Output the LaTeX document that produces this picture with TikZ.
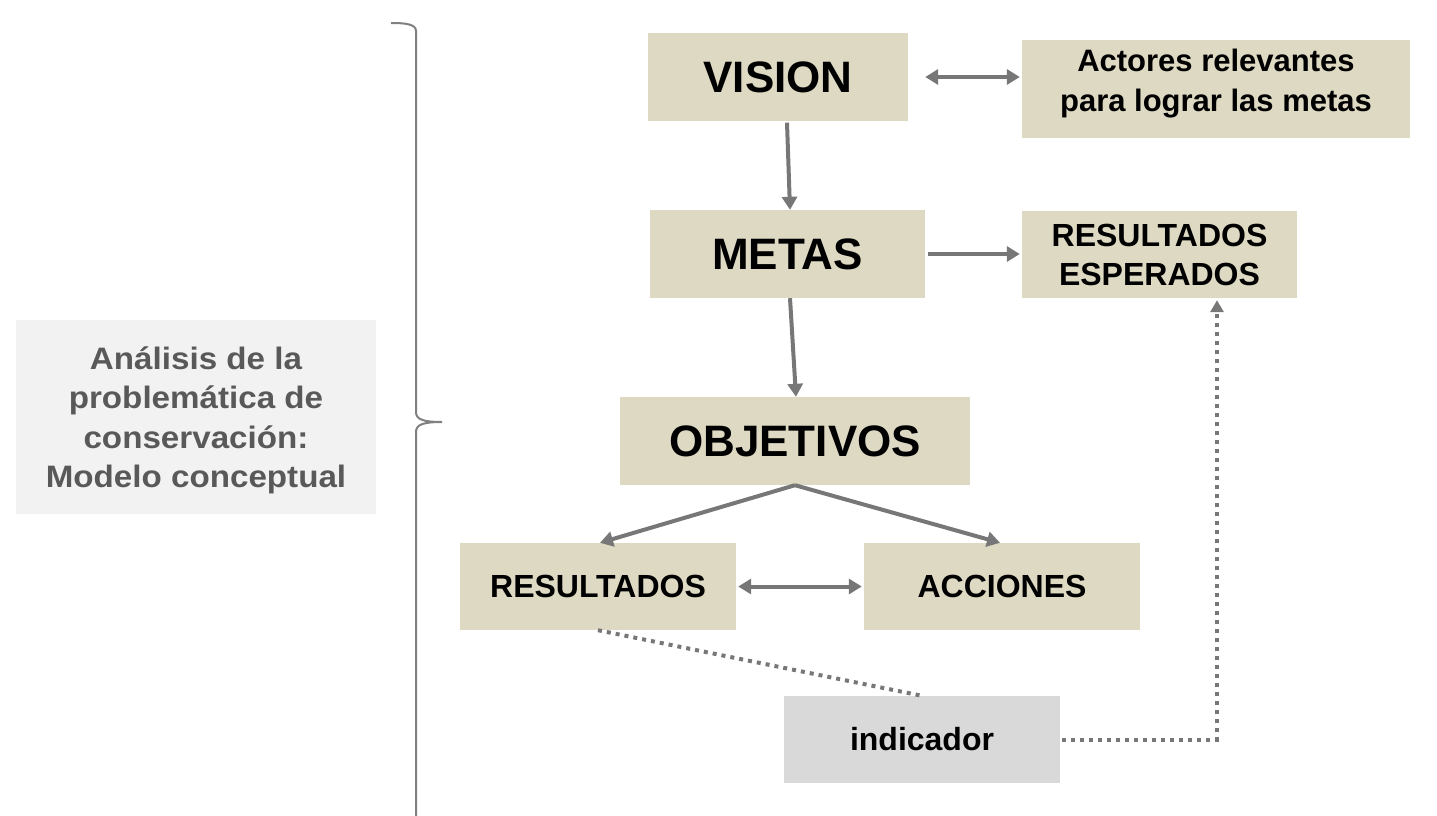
\documentclass[tikz,border=0pt]{standalone}
\usepackage{fontspec}
\setmainfont{Liberation Sans}
\newfontfamily\widefont[FakeStretch=1.07]{Liberation Sans}
\usetikzlibrary{arrows.meta}
\definecolor{tan}{HTML}{DDD9C3}
\definecolor{indgray}{HTML}{D9D9D9}
\definecolor{leftgray}{HTML}{F2F2F2}
\definecolor{lefttext}{HTML}{595959}
\definecolor{arrgray}{HTML}{777777}
\definecolor{bracegray}{HTML}{808080}
\tikzset{
  box/.style={fill=tan, inner sep=0pt, align=center, text=black},
  bigtext/.style={font=\fontsize{44}{50}\selectfont\bfseries},
  medtext/.style={font=\fontsize{32}{39}\selectfont\bfseries},
  acttext/.style={font=\fontsize{31}{40}\selectfont\bfseries},
  arr/.style={draw=arrgray, line width=4pt, -{Triangle[length=13pt,width=15pt]}},
  dbl/.style={draw=arrgray, line width=4pt, {Triangle[length=13pt,width=15pt]}-{Triangle[length=13pt,width=15pt]}},
  dots/.style={draw=arrgray, line width=4pt, dash pattern=on 4pt off 5pt},
  dotarr/.style={dots, -{Triangle[length=12pt,width=13pt]}},
  bracestyle/.style={draw=bracegray, line width=2pt},
}
\begin{document}
\begin{tikzpicture}[x=1pt,y=-1pt]
\useasboundingbox (0,0) rectangle (1437,816);

\node[fill=leftgray, minimum width=360pt, minimum height=194pt, inner sep=0pt, align=center, text=lefttext, text depth=0pt, font=\widefont\fontsize{31}{39.5}\selectfont\bfseries] (analisis) at (196,417) {Análisis de la\\problemática de\\conservación:\\Modelo conceptual};

\draw[bracestyle] (391,23) .. controls (405,23) and (416,24) .. (416,31) -- (416,412) .. controls (416,419) and (422,422) .. (442,422) .. controls (422,422) and (416,425) .. (416,432) -- (416,816);

\node[box, bigtext, minimum width=260pt, minimum height=87pt] (vision) at (778,77) {VISION};
\node[box, acttext, text depth=18pt, minimum width=388pt, minimum height=98pt] (actores) at (1216,89) {Actores relevantes\\para lograr las metas};
\node[box, bigtext, minimum width=275pt, minimum height=88pt] (metas) at (787.5,254) {METAS};
\node[box, medtext, minimum width=275pt, minimum height=87pt] (resesp) at (1159.5,254.5) {RESULTADOS\\ESPERADOS};
\node[box, bigtext, minimum width=350pt, minimum height=88pt] (objetivos) at (795,441) {OBJETIVOS};
\node[box, medtext, minimum width=276pt, minimum height=87pt] (resultados) at (598,586.5) {RESULTADOS};
\node[box, medtext, minimum width=276pt, minimum height=87pt] (acciones) at (1002,586.5) {ACCIONES};
\node[fill=indgray, inner sep=0pt, medtext, minimum width=276pt, minimum height=87pt] (indicador) at (922,739.5) {indicador};

\draw[dbl] ([xshift=17pt]vision.east) -- ([xshift=-2pt]vision.east -| actores.west);
\draw[arr] ([xshift=3pt]metas.east) -- ([xshift=-2pt]metas.east -| resesp.west);
\draw[arr] ([xshift=9pt,yshift=-2pt]vision.south) -- ([xshift=2.5pt]metas.north);
\draw[arr] ([xshift=2.5pt]metas.south) -- ([xshift=1pt]objetivos.north);
\draw[arr] (objetivos.south) -- ([xshift=2pt]resultados.north);
\draw[arr] (objetivos.south) -- ([xshift=-2pt]acciones.north);
\draw[dbl] ([xshift=2pt]resultados.east) -- ([xshift=-2pt]resultados.east -| acciones.west);

\draw[dots] (resultados.south) -- (indicador.north);
\coordinate (tgt) at ([xshift=57.5pt,yshift=-2pt]resesp.south);
\draw[dotarr] ([xshift=2pt]indicador.east) -| (tgt);
\end{tikzpicture}
\end{document}
